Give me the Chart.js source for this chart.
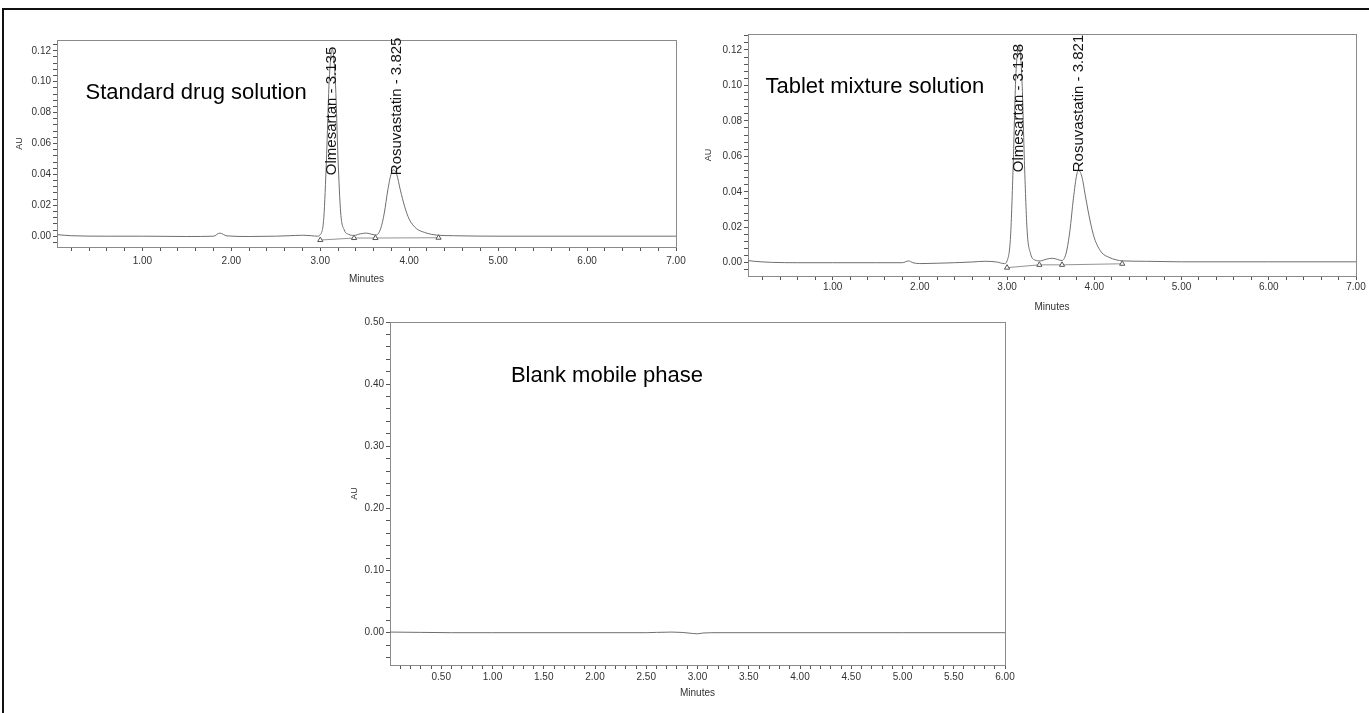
<!DOCTYPE html>
<html>
<head>
<meta charset="utf-8">
<script src="https://cdn.jsdelivr.net/npm/chart.js@4.4.1/dist/chart.umd.min.js"></script>
<style>
body { margin:0; background:#fff; width:1369px; height:713px; overflow:hidden; position:relative; font-family:"Liberation Sans", Arial, sans-serif; }
#frame { position:absolute; left:2px; top:8px; width:1420px; height:760px; border-left:2px solid #111; border-top:2px solid #111; }
canvas { position:absolute; }
</style>
</head>
<body>
<div id="frame"></div>
<canvas id="c1" width="690" height="260" style="left:0px;top:30px"></canvas>
<canvas id="c2" width="679" height="300" style="left:690px;top:20px"></canvas>
<canvas id="c3" width="700" height="403" style="left:330px;top:310px"></canvas>
<script>
// Standard drug solution (minutes / AU)
var std_t  = [0.04, 0.2, 0.6, 1.0, 1.5, 1.8, 1.87, 1.95, 2.2, 2.5, 2.65, 2.8, 2.9, 2.97, 3.0, 3.04, 3.07, 3.10, 3.135, 3.17, 3.20, 3.23, 3.27, 3.32, 3.38, 3.45, 3.52, 3.58, 3.63, 3.68, 3.72, 3.76, 3.80, 3.825, 3.86, 3.90, 3.95, 4.00, 4.08, 4.17, 4.25, 4.33, 4.5, 5.0, 6.0, 7.0];
var std_au = [0.0010, 0.0003, 0.0000, 0.0000, -0.0002, 0.0000, 0.0020, 0.0002, -0.0002, 0.0000, 0.0003, 0.0006, 0.0003, 0.0000, 0.0010, 0.012, 0.050, 0.100, 0.121, 0.100, 0.050, 0.015, 0.004, 0.0012, 0.0005, 0.0015, 0.0020, 0.0012, 0.0008, 0.005, 0.015, 0.030, 0.041, 0.043, 0.040, 0.030, 0.019, 0.011, 0.005, 0.0025, 0.0012, 0.0006, 0.0003, 0.0000, 0.0000, 0.0000];
var std_mark_t  = [3.0, 3.38, 3.62, 4.33];
var std_mark_au = [-0.0025, -0.0012, -0.0012, -0.0010];

// Tablet mixture solution
var tab_t  = [0.03, 0.1, 0.3, 0.6, 1.0, 1.5, 1.8, 1.87, 1.92, 2.0, 2.2, 2.4, 2.6, 2.75, 2.88, 2.97, 3.0, 3.04, 3.07, 3.10, 3.138, 3.17, 3.20, 3.23, 3.27, 3.32, 3.38, 3.45, 3.52, 3.58, 3.63, 3.68, 3.72, 3.76, 3.80, 3.821, 3.86, 3.90, 3.95, 4.00, 4.08, 4.17, 4.25, 4.33, 4.6, 5.0, 6.0, 7.0];
var tab_au = [0.0012, 0.0008, 0.0002, 0.0000, 0.0000, 0.0000, 0.0000, 0.0010, 0.0000, -0.0005, -0.0003, 0.0000, 0.0004, 0.0008, 0.0004, -0.0005, 0.0010, 0.015, 0.055, 0.105, 0.122, 0.104, 0.055, 0.018, 0.005, 0.0015, 0.0010, 0.0020, 0.0025, 0.0018, 0.0012, 0.006, 0.018, 0.036, 0.050, 0.052, 0.048, 0.037, 0.024, 0.014, 0.006, 0.003, 0.0016, 0.0010, 0.0008, 0.0005, 0.0005, 0.0005];
var tab_mark_t  = [3.0, 3.37, 3.63, 4.32];
var tab_mark_au = [-0.0028, -0.0012, -0.0012, -0.0006];

// Blank mobile phase
var blank_t  = [0.0, 0.3, 0.6, 1.0, 2.0, 2.5, 2.6, 2.75, 2.85, 2.95, 3.0, 3.05, 3.2, 4.0, 5.0, 6.0];
var blank_au = [0.001, 0.0005, 0.0, 0.0, 0.0, 0.0, 0.0005, 0.0010, 0.0004, -0.0012, -0.0018, -0.0006, 0.0, 0.0, 0.0, 0.0];

var peaks1 = [{ t: 3.135, label: 'Olmesartan - 3.135' }, { t: 3.86, label: 'Rosuvastatin - 3.825' }];
var peaks2 = [{ t: 3.138, label: 'Olmesartan - 3.138' }, { t: 3.821, label: 'Rosuvastatin - 3.821' }];

var FONT = '"Liberation Sans", Arial, sans-serif';

function pts(t, y) { return t.map(function (v, i) { return { x: v, y: y[i] }; }); }
function tickList(from, to, step) {
    var out = [];
    for (var v = from; v <= to + 1e-9; v += step) out.push({ value: Math.round(v * 1000) / 1000 });
    return out;
}
function isMajor(v, major) { var r = v / major; return Math.abs(r - Math.round(r)) < 1e-6; }

var chromPlugin = {
    id: 'chrom',
    beforeDatasetsDraw: function (chart) {
        var a = chart.chartArea, ctx = chart.ctx;
        ctx.save();
        ctx.strokeStyle = '#8a8a8a';
        ctx.lineWidth = 1;
        ctx.strokeRect(a.left + 0.5, a.top + 0.5, a.right - a.left, a.bottom - a.top);
        ctx.restore();
    },
    afterDraw: function (chart) {
        var o = chart.options.plugins.chrom, ctx = chart.ctx;
        var xs = chart.scales.x, ys = chart.scales.y;
        ctx.save();
        ctx.fillStyle = '#000';
        ctx.font = '22px ' + FONT;
        ctx.textBaseline = 'middle';
        ctx.textAlign = 'left';
        ctx.fillText(o.title, xs.getPixelForValue(o.titleX), ys.getPixelForValue(o.titleY));
        ctx.font = '15px ' + FONT;
        ctx.fillStyle = '#151515';
        (o.peaks || []).forEach(function (p) {
            ctx.save();
            ctx.translate(xs.getPixelForValue(p.t), ys.getPixelForValue(o.labelY));
            ctx.rotate(-Math.PI / 2);
            ctx.fillText(p.label, 0, 0);
            ctx.restore();
        });
        ctx.restore();
    }
};

function makeChart(id, cfg) {
    var datasets = [{
        data: pts(cfg.t, cfg.au),
        borderColor: '#6e6e6e',
        borderWidth: 1,
        pointRadius: 0,
        tension: 0.4,
        cubicInterpolationMode: 'monotone'
    }];
    if (cfg.markT) {
        datasets.push({
            data: pts(cfg.markT, cfg.markAu),
            borderColor: '#777',
            borderWidth: 0.8,
            pointStyle: 'triangle',
            pointRadius: 3,
            pointBorderWidth: 1,
            pointBackgroundColor: '#fff',
            pointBorderColor: '#555',
            tension: 0
        });
    }
    new Chart(document.getElementById(id), {
        type: 'line',
        data: { datasets: datasets },
        options: {
            responsive: false,
            animation: false,
            layout: { padding: { top: cfg.padTop, right: cfg.padRight, left: 0, bottom: 0 } },
            plugins: {
                legend: { display: false },
                tooltip: { enabled: false },
                chrom: { title: cfg.title, titleX: cfg.titleX, titleY: cfg.titleY, labelY: cfg.labelY, peaks: cfg.peaks }
            },
            scales: {
                x: {
                    type: 'linear',
                    min: cfg.xmin, max: cfg.xmax,
                    afterFit: function (s) { s.height = cfg.xH; },
                    afterBuildTicks: function (s) { s.ticks = tickList(cfg.xMinor, cfg.xmax, cfg.xMinor); },
                    border: { display: true, color: '#555', width: 1 },
                    grid: { drawOnChartArea: false, drawTicks: true, tickLength: 4, color: '#555' },
                    ticks: {
                        autoSkip: false, maxRotation: 0, padding: cfg.xPad, color: '#333',
                        font: { family: FONT, size: 10 },
                        callback: function (v) { return isMajor(v, cfg.xMajor) ? v.toFixed(2) : ''; }
                    },
                    title: { display: true, text: 'Minutes', color: '#333', font: { family: FONT, size: 10 }, padding: { top: 0, bottom: cfg.minPad } }
                },
                y: {
                    min: cfg.ymin, max: cfg.ymax,
                    afterFit: function (s) { s.width = cfg.yW; },
                    afterBuildTicks: function (s) { s.ticks = tickList(cfg.yFrom, cfg.ymax, cfg.yMinor); },
                    border: { display: true, color: '#555', width: 1 },
                    grid: { drawOnChartArea: false, drawTicks: true, tickLength: 4, color: '#555' },
                    ticks: {
                        autoSkip: false, padding: 2, color: '#333',
                        font: { family: FONT, size: 10 },
                        callback: function (v) { return isMajor(v, cfg.yMajor) ? v.toFixed(2) : ''; }
                    },
                    title: { display: true, text: 'AU', color: '#333', font: { family: FONT, size: 9 }, padding: { top: cfg.auPad, bottom: 0 } }
                }
            }
        },
        plugins: [chromPlugin]
    });
}

makeChart('c1', {
    t: std_t, au: std_au, markT: std_mark_t, markAu: std_mark_au,
    title: 'Standard drug solution', titleX: 0.36, titleY: 0.093, labelY: 0.0395, peaks: peaks1,
    xmin: 0.04, xmax: 7.0, xMinor: 0.2, xMajor: 1, ymin: -0.007, ymax: 0.127, yFrom: -0.004, yMinor: 0.004, yMajor: 0.02,
    padTop: 10, padRight: 14, xH: 43, yW: 57, xPad: 4, minPad: 5, auPad: 14
});
makeChart('c2', {
    t: tab_t, au: tab_au, markT: tab_mark_t, markAu: tab_mark_au,
    title: 'Tablet mixture solution', titleX: 0.23, titleY: 0.099, labelY: 0.051, peaks: peaks2,
    xmin: 0.03, xmax: 7.0, xMinor: 0.2, xMajor: 1, ymin: -0.0075, ymax: 0.129, yFrom: -0.004, yMinor: 0.004, yMajor: 0.02,
    padTop: 14, padRight: 13, xH: 44, yW: 58, xPad: 1, minPad: 7, auPad: 13
});
makeChart('c3', {
    t: blank_t, au: blank_au,
    title: 'Blank mobile phase', titleX: 1.18, titleY: 0.414, labelY: 0, peaks: [],
    xmin: 0.0, xmax: 6.0, xMinor: 0.1, xMajor: 0.5, ymin: -0.052, ymax: 0.50, yFrom: -0.04, yMinor: 0.02, yMajor: 0.1,
    padTop: 12, padRight: 25, xH: 48, yW: 60, xPad: 2, minPad: 14, auPad: 19
});
</script>
</body>
</html>
